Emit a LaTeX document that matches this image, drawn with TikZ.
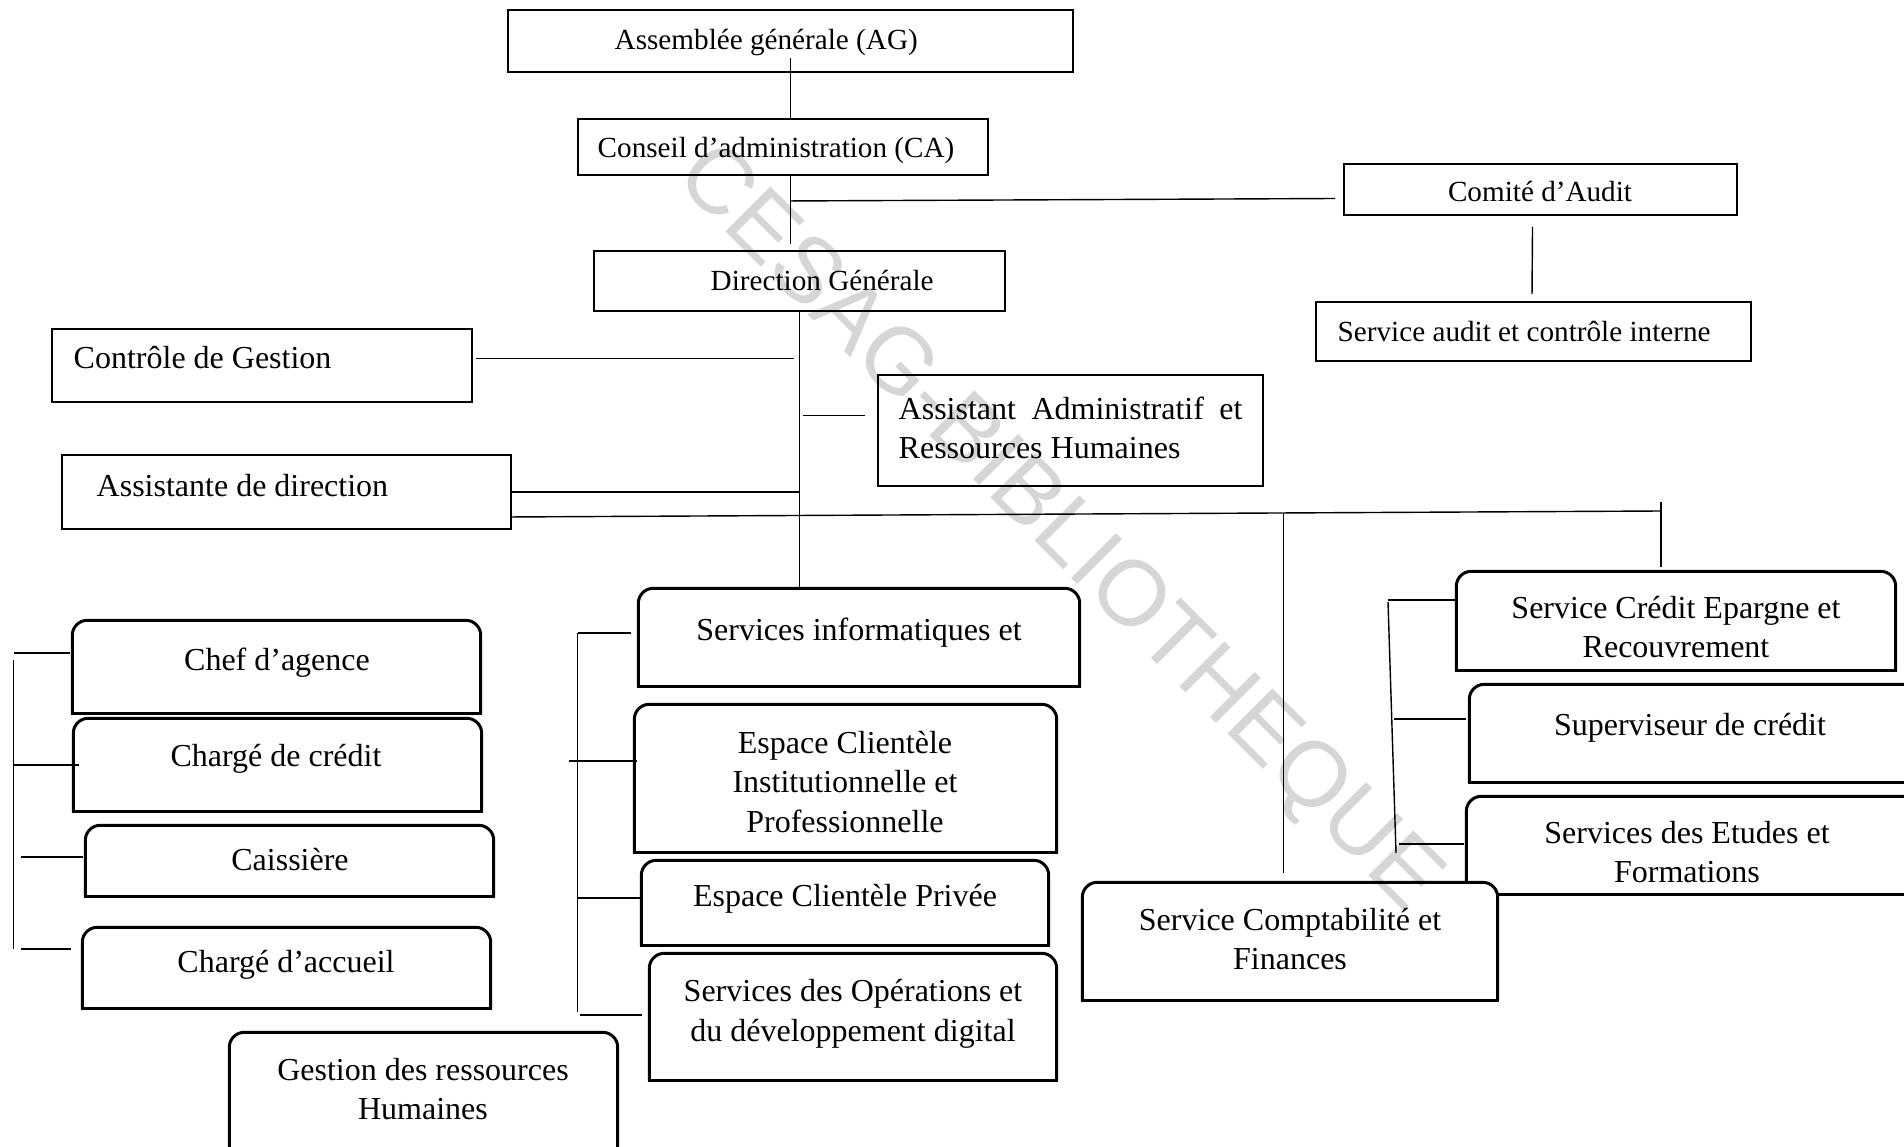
\documentclass[tikz,border=0pt]{standalone}
\usepackage{fontspec}
\setmainfont{Liberation Serif}
\newfontfamily\wmfont{Liberation Sans}
\usetikzlibrary{positioning, fit, calc}
\tikzset{%
	org box/.style={
		draw,
		rectangle,
		inner sep=0pt,
		line width=0.55pt
	},
	top box/.style={
		rectangle,
		inner sep=0pt
	},
	link/.style={line width=0.4pt},
	small text/.style={inner sep=0pt, font=\fontsize{8.3}{10}\selectfont},
	big text/.style={inner sep=0pt, align=center, font=\fontsize{9.1}{11.3}\selectfont},
}
% box with rounded top corners
\newcommand{\roundtop}[1]{%
	\fill[white] (#1.south west) rectangle (#1.north east);
	\draw[line width=0.85pt, rounded corners=0.15cm] (#1.south west) -- (#1.north west) -- (#1.north east) -- (#1.south east);
	\draw[line width=0.85pt, line cap=rect] (#1.south west) -- (#1.south east);
}

\begin{document}
\begin{tikzpicture}[x=0.01cm, y=-0.01cm]
	\useasboundingbox (0,0) rectangle (1904,1146);
	\clip (0,0) rectangle (1904,1146);

	% Upper boxes
	\node[org box, line width=0.8pt, fit={(508,10) (1073,72)}] (ag) {};
	\node[org box, fit={(578,119) (988,175)}] (ca) {};
	\node[org box, fit={(1344,164) (1737,215)}] (com) {};
	\node[org box, fit={(594,251) (1005,311)}] (dg) {};
	\node[org box, fit={(1316,302) (1751,361)}] (sac) {};
	\node[org box, fit={(52,329) (472,402)}] (cg) {};
	\node[org box, fit={(878,375) (1263,486)}] (aarh) {};
	\node[org box, fit={(62,455) (511,529)}] (ad) {};

	\node[small text, anchor=west] (t-ag) at (614,43) {Assemblée générale (AG)};
	\node[small text, anchor=west] (t-ca) at (597,150) {Conseil d’administration (CA)};
	\node[small text] (t-com) at (1540,191) {Comité d’Audit};
	\node[small text, anchor=west] (t-dg) at (710,280) {Direction Générale};
	\node[small text, anchor=west] (t-sac) at (1337,331) {Service audit et contrôle interne};
	\node[big text, anchor=west] (t-cg) at (73,358) {Contrôle de Gestion};
	\node[big text, anchor=west, align=left] (t-aarh) at (898,428)
		{\makebox[3.436cm][s]{Assistant Administratif et}\\Ressources Humaines};
	\node[big text, anchor=west] (t-ad) at (96,486) {Assistante de direction};

	% Rounded boxes, left column
	\node[top box, fit={(73,621) (480,713)}] (chef) {};
	\node[top box, fit={(74,719) (481,811)}] (credit) {};
	\node[top box, fit={(86,826) (493,896)}] (caisse) {};
	\node[top box, fit={(83,928) (490,1008)}] (accueil) {};
	\node[top box, fit={(230,1033) (617,1200)}] (grh) {};
	\roundtop{chef}
	\roundtop{credit}
	\roundtop{caisse}
	\roundtop{accueil}
	\roundtop{grh}

	% Rounded boxes, middle column
	\node[top box, fit={(639,589) (1079,686)}] (info) {};
	\node[top box, fit={(635,705) (1056,852)}] (eci) {};
	\node[top box, fit={(642,861) (1048,945)}] (ecp) {};
	\node[top box, fit={(650,954) (1056,1080)}] (sodd) {};
	\roundtop{info}
	\roundtop{eci}
	\roundtop{ecp}
	\roundtop{sodd}

	% Rounded boxes, right column
	\node[top box, fit={(1457,572) (1895,670)}] (scer) {};
	\node[top box, fit={(1470,685) (1930,782)}] (sup) {};
	\node[top box, fit={(1467,797) (1930,894)}] (sef) {};
	\node[top box, fit={(1083,883) (1497,1000)}] (scf) {};
	\roundtop{scer}
	\roundtop{sup}
	\roundtop{sef}
	\roundtop{scf}

	\node[big text] (t-chef) at (277,663) {Chef d’agence};
	\node[big text] (t-credit) at (276,759) {Chargé de crédit};
	\node[big text] (t-caisse) at (290,860) {Caissière};
	\node[big text] (t-accueil) at (286,965) {Chargé d’accueil};
	\node[big text] (t-grh) at (423,1089) {Gestion des ressources\\Humaines};
	\node[big text] (t-info) at (859,633) {Services informatiques et};
	\node[big text] (t-eci) at (845,782) {Espace Clientèle\\Institutionnelle et\\Professionnelle};
	\node[big text] (t-ecp) at (845,899) {Espace Clientèle Privée};
	\node[big text] (t-sodd) at (853,1014) {Services des Opérations et\\du développement digital};
	\node[big text] (t-scer) at (1676,627) {Service Crédit Epargne et\\Recouvrement};
	\node[big text] (t-sup) at (1690,728) {Superviseur de crédit};
	\node[big text] (t-sef) at (1687,852) {Services des Etudes et\\Formations};
	\node[big text] (t-scf) at (1290,939) {Service Comptabilité et\\Finances};

	% Main links
	\draw[link] ($(ag.south)+(0,-15)$) -- (ag.south |- ca.north);
	\draw[link] (ca.south -| ag.south) -- ++(0,68);
	\draw[link] ($(ca.south -| ag.south)+(0,25)$) -- ($(com.west)+(-8,9)$);
	\draw[link] ($(com.south)+(-8,11)$) -- ($(sac.north)+(-1.5,-7)$);
	\draw[link] (dg.south) -- (dg.south |- info.north);
	\draw[link] ($(cg.east)+(3,-7)$) -- ($(dg.south |- cg.east)+(-6,-7)$);
	\draw[link] ($(aarh.west)+(-74,-15)$) -- ($(aarh.west)+(-12,-15)$);
	\draw[link] (ad.east) -- (ad.east -| dg.south);

	% Long branch line
	\coordinate (rt) at (1661,511);
	\draw[link] ($(ad.south east)+(0,-13)$) -- (rt);
	\draw[link] ($(scer.north)+(-15,-69)$) -- ($(scer.north)+(-15,-4)$);
	\draw[link] ($(scf.north)+(-6.5,-368)$) -- ($(scf.north)+(-6.5,-9)$);
	\draw[link] ($(ad.south east)+(-12,0)$) -- ($(ad.south east)+(-12,0)$ |- grh.north);

	% Left bracket
	\coordinate (l1) at (14,653);
	\coordinate (l2) at (13.5,765);
	\coordinate (l3) at (21,857);
	\coordinate (l4) at (21,949);
	\draw[link] (13.5,660) -- (13.5,949);
	\draw[link] (l1) -- ($(chef.west |- l1)+(-2,0)$);
	\draw[link] (l2) -- ($(credit.west |- l2)+(6,0)$);
	\draw[link] (l3) -- ($(caisse.west |- l3)+(-2,0)$);
	\draw[link] (l4) -- ($(accueil.west |- l4)+(-11,0)$);

	% Middle bracket
	\coordinate (m1) at (577.5,633);
	\coordinate (m2) at (569,761);
	\coordinate (m3) at (577.5,898);
	\coordinate (m4) at (580,1015);
	\draw[link] (577.5,633) -- (577.5,1012);
	\draw[link] (m1) -- ($(info.west |- m1)+(-7,0)$);
	\draw[link] (m2) -- ($(eci.west |- m2)+(3,0)$);
	\draw[link] (m3) -- (ecp.west |- m3);
	\draw[link] (m4) -- ($(sodd.west |- m4)+(-7,0)$);

	% Right bracket
	\coordinate (r1) at (1388,600);
	\coordinate (r2) at (1394,719);
	\coordinate (r3) at (1399,844);
	\draw[link] (1388,602) -- (1396,853);
	\draw[link] (r1) -- (scer.west |- r1);
	\draw[link] (r2) -- ($(sup.west |- r2)+(-3,0)$);
	\draw[link] (r3) -- ($(sef.west |- r3)+(-2,0)$);

	% Watermark
	\begin{scope}[blend mode=multiply]
		\node[rotate=-45, inner sep=0pt, text=black!16, font=\wmfont\fontsize{26.3}{30}\selectfont] (wm) at (1057,530) {CESAG-BIBLIOTHEQUE};
	\end{scope}
\end{tikzpicture}
\end{document}
